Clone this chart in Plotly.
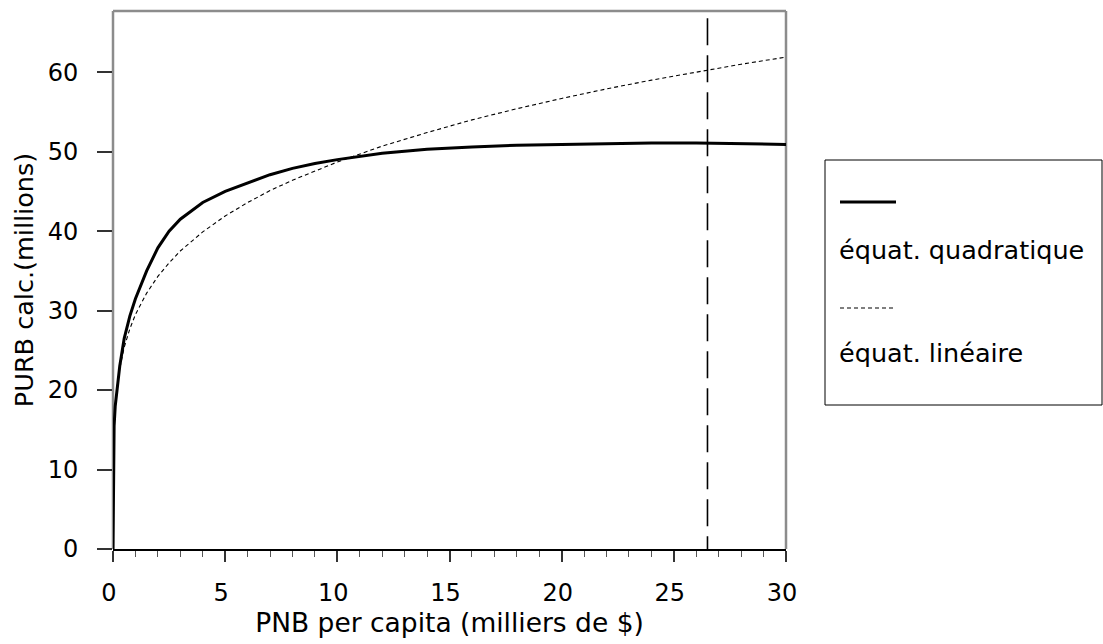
import plotly.graph_objects as go

# ---- data ----
x_vals = [0, 0.02, 0.05, 0.1, 0.2, 0.3, 0.5, 0.75, 1, 1.5, 2, 2.5, 3, 4, 5, 6, 7, 8, 9, 10,
          12, 14, 16, 18, 20, 22, 24, 26, 28, 30]
y_quadratique = [0, 11.5, 15.5, 18.0, 21.0, 23.0, 26.5, 29.3, 31.5, 35.0, 37.9, 40.0, 41.5, 43.6,
                 45.0, 46.1, 47.1, 47.9, 48.5, 49.0, 49.8, 50.3, 50.6, 50.8, 50.9, 51.0, 51.1,
                 51.1, 51.0, 50.9]
y_lineaire = [0, 11.0, 15.3, 17.9, 20.8, 22.7, 25.4, 27.7, 29.5, 32.2, 34.3, 36.0, 37.5, 39.9,
              41.9, 43.6, 45.1, 46.4, 47.6, 48.7, 50.7, 52.4, 54.0, 55.4, 56.7, 57.9, 59.0,
              60.0, 61.0, 61.9]
ref_x = [26.5, 26.5]
ref_y = [66.8, 0]

series_names = ["équat. quadratique", "équat. linéaire"]
x_title = "PNB per capita (milliers de $)"
y_title = "PURB calc.(millions)"
y_ticks = [0, 10, 20, 30, 40, 50, 60]
x_ticks = [0, 5, 10, 15, 20, 25, 30]

FONT = "DejaVu Sans, Verdana, sans-serif"

fig = go.Figure()
fig.add_trace(go.Scatter(x=ref_x, y=ref_y, mode="lines",
                         line=dict(color="black", width=1.6, dash="27px,10px"),
                         showlegend=False, hoverinfo="skip"))
fig.add_trace(go.Scatter(x=x_vals, y=y_lineaire, mode="lines", name=series_names[1],
                         line=dict(color="black", width=1.1, dash="4px,3px"),
                         showlegend=False))
fig.add_trace(go.Scatter(x=x_vals, y=y_quadratique, mode="lines", name=series_names[0],
                         line=dict(color="black", width=3),
                         showlegend=False))

L, R, T, B = 113, 317, 11, 95
W, H = 1103, 644
pw, ph = W - L - R, H - T - B


def px(xp):
    return (xp - L) / pw


def py(yp):
    return (H - B - yp) / ph


shapes = [
    dict(type="line", xref="paper", yref="paper", x0=0, x1=1, y0=1, y1=1,
         line=dict(color="#8c8c8c", width=2.5), layer="below"),
    dict(type="line", xref="paper", yref="paper", x0=1, x1=1, y0=0, y1=1,
         line=dict(color="#8c8c8c", width=2.5), layer="below"),
    dict(type="line", xref="paper", yref="paper", x0=0, x1=0, y0=0, y1=1,
         line=dict(color="#8c8c8c", width=2.5), layer="below"),
    dict(type="rect", xref="paper", yref="paper", x0=px(825), x1=px(1102), y0=py(405), y1=py(160),
         line=dict(color="black", width=1), fillcolor="white"),
    dict(type="line", xref="paper", yref="paper", x0=px(840), x1=px(896), y0=py(202), y1=py(202),
         line=dict(color="black", width=3)),
    dict(type="line", xref="paper", yref="paper", x0=px(840), x1=px(896), y0=py(308), y1=py(308),
         line=dict(color="black", width=1.1, dash="4px,3px")),
]

annotations = [
    dict(text=series_names[0], xref="paper", yref="paper", x=px(837), y=py(250),
         xanchor="left", yanchor="middle", showarrow=False,
         font=dict(family=FONT, size=25.5, color="black")),
    dict(text=series_names[1], xref="paper", yref="paper", x=px(837), y=py(353),
         xanchor="left", yanchor="middle", showarrow=False,
         font=dict(family=FONT, size=25.5, color="black")),
]

fig.update_layout(
    width=W, height=H,
    margin=dict(l=L, r=R, t=T, b=B, pad=0),
    paper_bgcolor="white", plot_bgcolor="white",
    font=dict(family=FONT, size=24, color="black"),
    shapes=shapes, annotations=annotations,
    showlegend=False,
    xaxis=dict(range=[0, 30], tickvals=x_ticks, ticks="outside", ticklen=11, tickwidth=1.5,
               tickcolor="#333", showgrid=False, zeroline=False, showline=True,
               linecolor="black", linewidth=2,
               minor=dict(dtick=1, tick0=0, ticks="outside", ticklen=6, tickwidth=1.2,
                          tickcolor="#555", showgrid=False),
               tickfont=dict(size=24), ticklabelstandoff=10, ticklabelshift=-4,
               title=dict(text=x_title, font=dict(size=26.5), standoff=8)),
    yaxis=dict(range=[0, 67.7], tickvals=y_ticks, ticks="outside", ticklen=15, tickwidth=1.5,
               tickcolor="#333", showgrid=False, zeroline=False, showline=False,
               tickfont=dict(size=24), ticklabelstandoff=14,
               title=dict(text=y_title, font=dict(size=25.5), standoff=6)),
)

fig.write_html("out.html")
